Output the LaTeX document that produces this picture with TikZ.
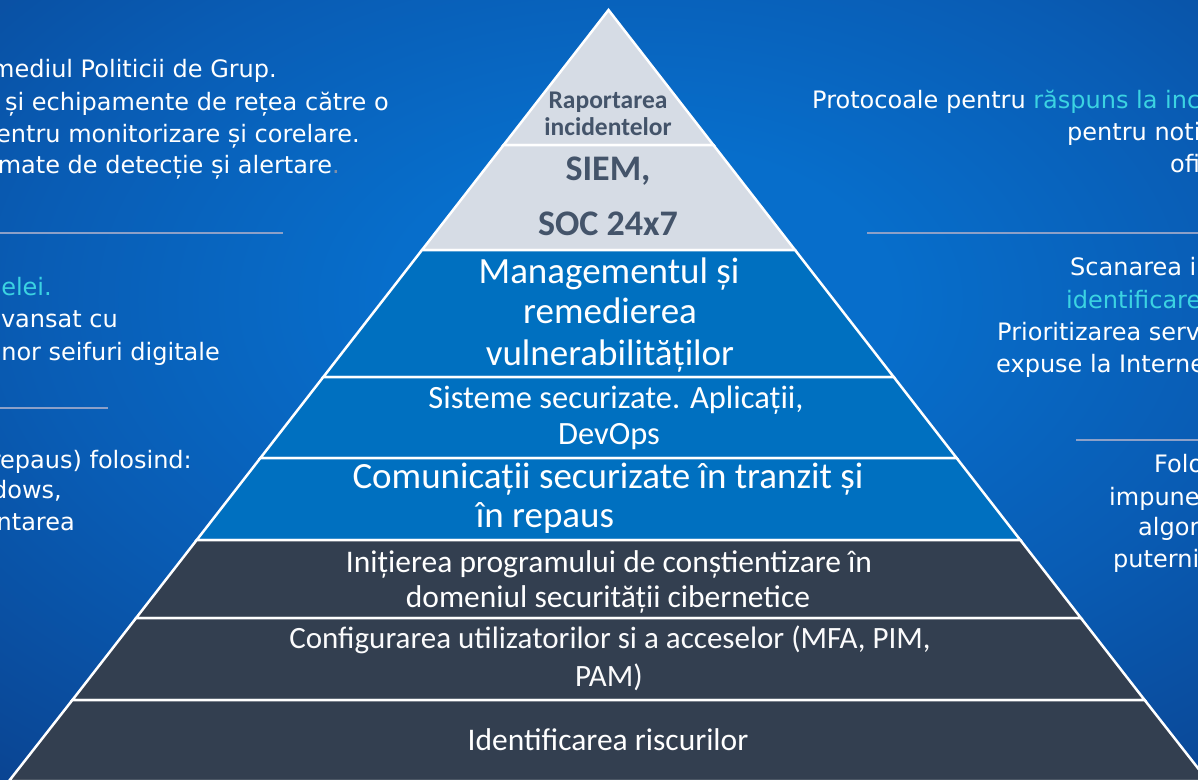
\documentclass[tikz,border=0pt]{standalone}
\usepackage{fontspec}
\setmainfont{DejaVu Sans}
\newfontfamily\sidefont{DejaVu Sans}
\newfontfamily\calib{Carlito}

\definecolor{bgglow}{HTML}{076ECB}
\definecolor{bgmid}{HTML}{095CB4}
\definecolor{bgbase}{HTML}{0A4796}
\definecolor{bgdark}{HTML}{0A2C72}
\definecolor{bgdeep}{HTML}{091F62}
\definecolor{tiergray}{HTML}{D6DCE5}
\definecolor{tierblue}{HTML}{0070C0}
\definecolor{tierdark}{HTML}{333F50}
\definecolor{slate}{HTML}{44546A}
\definecolor{cyantext}{HTML}{3BD3E2}
\definecolor{ruleline}{HTML}{8CA0C8}
\definecolor{dimdot}{HTML}{7F8FA9}

\pgfdeclareradialshading{bgshade}{\pgfpoint{0bp}{0bp}}{%
  color(0bp)=(bgglow); color(7bp)=(bgglow); color(17bp)=(bgmid);
  color(27bp)=(bgbase); color(38bp)=(bgdark); color(50bp)=(bgdeep)}

\tikzset{
  sidetxt/.style={inner sep=0pt, text=white, font=\sidefont\fontsize{24}{28}\selectfont},
  tiertxt/.style={inner sep=0pt, anchor=base, text=white},
  tierfill/.style={draw=white, line width=2.5pt, line join=miter},
  rulestroke/.style={draw=ruleline, line width=2pt}
}

\begin{document}
\begin{tikzpicture}[x=1pt, y=-1pt]
\useasboundingbox (0,0) rectangle (1198,779);
\clip (0,0) rectangle (1198,779);

% background glow around the middle of the slide
\shade[shading=bgshade] (-260,-250) rectangle (1540,850);

% divider rules
\path[rulestroke] (0,233) -- (283,233);
\path[rulestroke] (0,408) -- (108,408);
\path[rulestroke] (867,233) -- (1198,233);
\path[rulestroke] (1076,440) -- (1198,440);

% pyramid edge points, from the apex down
\coordinate (apex) at (608.5,10);
\coordinate (l1) at (503.6,145);  \coordinate (r1) at (713.4,145);
\coordinate (l2) at (422.0,250);  \coordinate (r2) at (795.0,250);
\coordinate (l3) at (323.3,377);  \coordinate (r3) at (893.7,377);
\coordinate (l4) at (260.4,458);  \coordinate (r4) at (956.6,458);
\coordinate (l5) at (196.7,540);  \coordinate (r5) at (1020.3,540);
\coordinate (l6) at (136.1,618);  \coordinate (r6) at (1080.9,618);
\coordinate (l7) at (72.4,700);   \coordinate (r7) at (1144.6,700);
\coordinate (l8) at (9.0,781);    \coordinate (r8) at (1208.0,781);

% tiers
\path[tierfill, fill=tiergray] (apex) -- (r1) -- (l1) -- cycle;
\path[tierfill, fill=tiergray] (l1) -- (r1) -- (r2) -- (l2) -- cycle;
\path[tierfill, fill=tierblue] (l2) -- (r2) -- (r3) -- (l3) -- cycle;
\path[tierfill, fill=tierblue] (l3) -- (r3) -- (r4) -- (l4) -- cycle;
\path[tierfill, fill=tierblue] (l4) -- (r4) -- (r5) -- (l5) -- cycle;
\path[tierfill, fill=tierdark] (l5) -- (r5) -- (r6) -- (l6) -- cycle;
\path[tierfill, fill=tierdark] (l6) -- (r6) -- (r7) -- (l7) -- cycle;
\path[tierfill, fill=tierdark] (l7) -- (r7) -- (r8) -- (l8) -- cycle;

% tier labels
\node[tiertxt, text=slate, font=\calib\bfseries\fontsize{25.5}{28}\selectfont] (rap1) at (608,108) {Raportarea};
\node[tiertxt, text=slate, font=\calib\bfseries\fontsize{25.5}{28}\selectfont] (rap2) at (608,135) {incidentelor};
\node[tiertxt, text=slate, font=\calib\bfseries\fontsize{36}{40}\selectfont] (siem) at (608,180) {SIEM,};
\node[tiertxt, text=slate, font=\calib\bfseries\fontsize{36}{40}\selectfont] (soc) at (608,235) {SOC 24x7};

\node[tiertxt, font=\calib\fontsize{37}{40}\selectfont] (vm1) at (609,283) {Managementul și};
\node[tiertxt, font=\calib\fontsize{37}{40}\selectfont] (vm2) at (610,323) {remedierea};
\node[tiertxt, font=\calib\fontsize{37}{40}\selectfont] (vm3) at (610,365) {vulnerabilităților};

\node[tiertxt, font=\calib\fontsize{32.5}{36}\selectfont] (sys1) at (616,408) {Sisteme securizate. Aplicații,};
\node[tiertxt, font=\calib\fontsize{32.5}{36}\selectfont] (sys2) at (609,444) {DevOps};

\node[tiertxt, font=\calib\fontsize{37}{40}\selectfont] (com1) at (608,488) {Comunicații securizate în tranzit și};
\node[tiertxt, font=\calib\fontsize{37}{40}\selectfont] (com2) at (545,527) {în repaus};

\node[tiertxt, font=\calib\fontsize{31.5}{35}\selectfont] (aw1) at (609,572) {Inițierea programului de conștientizare în};
\node[tiertxt, font=\calib\fontsize{31.5}{35}\selectfont] (aw2) at (608,607) {domeniul securității cibernetice};

\node[tiertxt, text=white!90!tiergray, font=\calib\fontsize{31}{35}\selectfont] (cf1) at (610,648) {Configurarea utilizatorilor si a acceselor (MFA, PIM,};
\node[tiertxt, text=white!90!tiergray, font=\calib\fontsize{31}{35}\selectfont] (cf2) at (609,686) {PAM)};

\node[tiertxt, font=\calib\fontsize{31.5}{35}\selectfont] (risk) at (608,750) {Identificarea riscurilor};

% left column
\node[sidetxt, anchor=base east] (la1) at (277,77) {mediul Politicii de Grup.};
\node[sidetxt, anchor=base east] (la2) at (389,110) {și echipamente de rețea către o};
\node[sidetxt, anchor=base east] (la3) at (360,142) {entru monitorizare și corelare.};
\node[sidetxt, anchor=base east] (la4) at (340,173) {mate de detecție și alertare\textcolor{dimdot}{.}};

\node[sidetxt, anchor=base east, text=cyantext] (lb1) at (52,295) {elei.};
\node[sidetxt, anchor=base east] (lb2) at (118,327) {avansat cu};
\node[sidetxt, anchor=base east] (lb3) at (220,360) {nor seifuri digitale};

\node[sidetxt, anchor=base east] (lc1) at (192,468) {repaus) folosind:};
\node[sidetxt, anchor=base east] (lc2) at (62,498) {dows,};
\node[sidetxt, anchor=base east] (lc3) at (75,530) {ntarea};

% right column
\node[sidetxt, anchor=base west] (ra1) at (812,108) {Protocoale pentru \textcolor{cyantext}{răspuns la inc}};
\node[sidetxt, anchor=base west] (ra2) at (1067,140) {pentru noti};
\node[sidetxt, anchor=base west] (ra3) at (1170,172) {ofi};

\node[sidetxt, anchor=base west] (rb1) at (1070,275) {Scanarea in};
\node[sidetxt, anchor=base west, text=cyantext] (rb2) at (1066,308) {identificare};
\node[sidetxt, anchor=base west] (rb3) at (997,340) {Prioritizarea serv};
\node[sidetxt, anchor=base west] (rb4) at (996,372) {expuse la Interne};

\node[sidetxt, anchor=base west] (rc1) at (1154,472) {Folo};
\node[sidetxt, anchor=base west] (rc2) at (1109,505) {impune};
\node[sidetxt, anchor=base west] (rc3) at (1138,535) {algor};
\node[sidetxt, anchor=base west] (rc4) at (1113,567) {puterni};
\end{tikzpicture}
\end{document}
